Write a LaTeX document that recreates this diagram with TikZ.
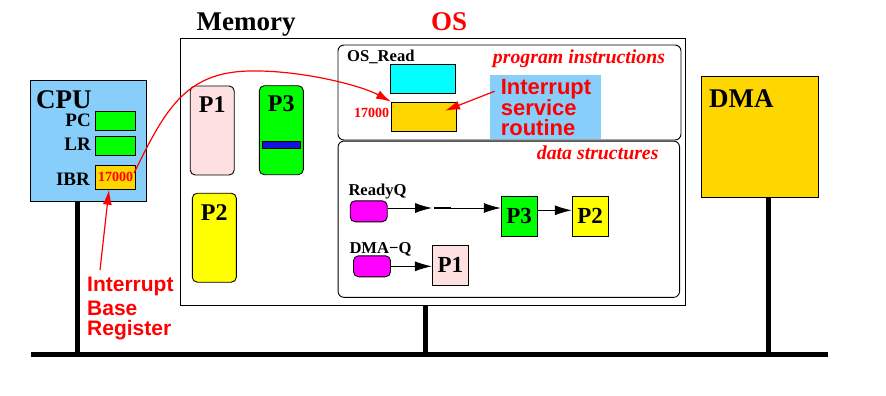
\documentclass[tikz,border=0pt]{standalone}
\usepackage{fontspec}
\setmainfont{Liberation Serif}
\newfontfamily\calloutfont{Liberation Sans}
\usetikzlibrary{arrows.meta,positioning}
\definecolor{cpublue}{RGB}{135,206,250}
\definecolor{regfill}{RGB}{0,255,0}
\definecolor{gold}{RGB}{255,215,0}
\definecolor{pinkish}{RGB}{255,224,224}
\definecolor{yel}{RGB}{255,255,0}
\definecolor{cyanfill}{RGB}{0,255,255}
\definecolor{qmagenta}{RGB}{255,0,255}
\definecolor{barblue}{RGB}{20,20,220}
\definecolor{osred}{RGB}{255,0,0}
\tikzset{
  box/.style     ={draw,line width=0.9pt,inner sep=0pt},
  unit/.style    ={box,minimum width=117pt,minimum height=121pt},
  regbox/.style  ={box,minimum width=40pt,minimum height=19pt},
  procbox/.style ={box,rounded corners=5pt,minimum width=44pt,minimum height=89pt},
  pcb/.style     ={box,minimum width=36pt,minimum height=40.5pt,
                   font=\fontsize{23}{23}\selectfont\bfseries},
  qhead/.style   ={box,fill=qmagenta,rounded corners=5pt,minimum width=37pt,minimum height=21pt},
  region/.style  ={box,rounded corners=6pt},
  heading/.style ={inner sep=0pt,font=\fontsize{27}{27}\selectfont\bfseries},
  regname/.style ={inner sep=0pt,font=\fontsize{19}{19}\selectfont\bfseries},
  plabel/.style  ={inner sep=0pt,font=\fontsize{24}{24}\selectfont\bfseries},
  qname/.style   ={inner sep=0pt,font=\fontsize{16.6}{16.6}\selectfont\bfseries},
  addr/.style    ={inner sep=0pt,text=osred,font=\fontsize{14}{14}\selectfont\bfseries},
  remark/.style  ={inner sep=0pt,text=osred,font=\fontsize{19.8}{19.8}\selectfont\bfseries\itshape},
  callout/.style ={inner sep=0pt,text=osred,align=left,
                   font=\calloutfont\bfseries\fontsize{22}{19.8}\selectfont},
  link/.style    ={-{Latex[length=17pt,width=10pt]},line width=0.9pt},
  redptr/.style  ={osred,line width=1.2pt,-{Latex[length=15pt,width=9pt]}},
  bus/.style     ={line width=4.5pt},
}
\begin{document}
\begin{tikzpicture}[x=1pt,y=-1pt]
  \useasboundingbox (0,0) rectangle (886,396);

  % CPU and its registers
  \node[unit,fill=cpublue,minimum width=116pt] (cpu) at (88,140.5) {};
  \node[heading,anchor=base west] (cpulbl) at (36,108) {CPU};
  \node[regbox,fill=regfill] (pc) at (115.5,120.7) {};
  \node[regbox,fill=regfill] (lr) at (115.5,145.7) {};
  \node[regbox,fill=gold,minimum height=24pt,addr] (ibr) at (115.5,177.2) {17000};
  \node[regname,anchor=base east] (pclbl)  at (91,126.5) {PC};
  \node[regname,anchor=base east] (lrlbl)  at (91,150.7) {LR};
  \node[regname,anchor=base east] (ibrlbl) at (90,185)   {IBR};

  % memory with the processes
  \node[box,minimum width=505pt,minimum height=267pt] (mem) at (432.6,171.7) {};
  \node[heading,anchor=base west] (memlbl) at (196.5,30.7) {Memory};
  \node[heading,anchor=base west,text=osred] (oslbl) at (431,30.7) {OS};
  \node[procbox,fill=pinkish] (m1) at (212.2,130.5) {};
  \node[procbox,fill=regfill] (m3) at (281.3,130.2) {};
  \node[procbox,fill=yel]     (m2) at (214.3,237.7) {};
  \node[plabel,below=10.5pt of m1.north] (m1lbl) {P1};
  \node[plabel,below=10.5pt of m3.north] (m3lbl) {P3};
  \node[plabel,below=12pt of m2.north]   (m2lbl) {P2};
  \node[box,fill=barblue,minimum width=38.4pt,minimum height=7.7pt] (m3bar) at (281.5,144.8) {};

  % OS: program instructions
  \node[region,minimum width=343pt,minimum height=95pt] (prog) at (509.5,92.5) {};
  \node[remark,anchor=base west] (proglbl) at (492.7,63.3) {program instructions};
  \node[qname,anchor=base west] (osread) at (347,61.7) {OS\_Read};
  \node[box,fill=cyanfill,minimum width=65pt,minimum height=29pt] (readcode) at (422.7,78.7) {};
  \node[box,fill=gold,minimum width=65pt,minimum height=29pt] (handler) at (424,116.7) {};
  \node[addr,anchor=base east] (hdladdr) at (389.3,117.3) {17000};
  \node[callout,fill=cpublue,minimum width=110.7pt,minimum height=64.3pt,
        text width=89pt,inner xsep=10.8pt] (isr) at (545.3,107.2) {Interrupt\\service\\routine};

  % OS: data structures
  \node[region,minimum width=341.5pt,minimum height=156.3pt] (dstr) at (508.8,219.2) {};
  \node[remark,anchor=base west] (dstrlbl) at (536.7,159.3) {data structures};
  \node[qname,anchor=base west] (rqlbl) at (348.3,195) {ReadyQ};
  \node[qhead] (rq) at (368.7,211.3) {};
  \coordinate (rqgap) at (432,208);
  \node[pcb,fill=regfill] (p3q) at (519.2,216.3) {P3};
  \node[pcb,fill=yel]     (p2q) at (590.2,216.3) {P2};
  \node[qname,anchor=base west] (dqlbl) at (349.3,253.3) {DMA−Q};
  \node[qhead] (dq) at (372,266.3) {};
  \node[pcb,fill=pinkish] (p1q) at (450.3,265.2) {P1};

  \draw[link] ([yshift=3.3pt]rq.east) -- (rqgap);
  \draw[line width=2pt] ([xshift=1.5pt]rqgap) -- ([xshift=18.5pt]rqgap);
  \draw[link] ([xshift=18.5pt]rqgap) -- (rqgap -| p3q.west);
  \draw[link] ([yshift=6pt]p3q.east) -- ([yshift=6pt]p2q.west);
  \draw[link] (dq.east) -- (dq.east -| p1q.west);

  % DMA controller
  \node[unit,fill=gold] (dma) at (760,136.7) {};
  \node[heading,anchor=base west] (dmalbl) at (709,107.7) {DMA};

  % system bus
  \coordinate (busw) at (31,354.7);
  \coordinate (buse) at (828,354.7);
  \coordinate (cpudrop) at ([xshift=-10.3pt]cpu.south);
  \coordinate (memdrop) at ([xshift=-7pt]mem.south);
  \coordinate (dmadrop) at ([xshift=8.3pt]dma.south);
  \draw[bus] (busw) -- (buse);
  \draw[bus] (cpudrop) -- (cpudrop |- busw);
  \draw[bus] (memdrop) -- (memdrop |- busw);
  \draw[bus] (dmadrop) -- (dmadrop |- busw);

  % red pointers
  \coordinate (arcpeak) at (250,71);
  \draw[redptr] ([xshift=-2pt,yshift=4pt]ibr.east) .. controls (165,110) and (185,72) .. (arcpeak)
    .. controls (300,70) and (360,85) .. (handler.north west);
  \draw[redptr] ([shift={(5,-16)}]isr.west) -- ([shift={(21,-6)}]handler.center);
  \node[callout,anchor=north west,font=\calloutfont\bfseries\fontsize{21}{19.5}\selectfont]
    (ibrnote) at (87,276.5) {Interrupt\\[5pt]Base\\Register};
  \draw[redptr] ([shift={(13,-6.5)}]ibrnote.north west) -- ([xshift=-6.5pt]ibr.south);
\end{tikzpicture}
\end{document}
